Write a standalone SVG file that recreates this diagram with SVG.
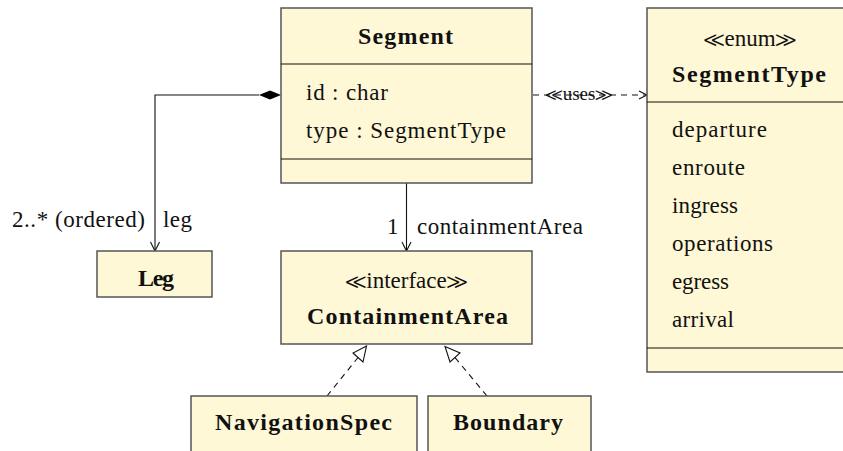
<svg xmlns="http://www.w3.org/2000/svg" width="843" height="451" viewBox="0 0 843 451" font-family="Liberation Serif, DejaVu Serif, Noto Serif, FreeSerif, Nimbus Roman, Times, serif">
<style>
.box{fill:#fff8d6;stroke:#555;stroke-width:1.5}
.div{stroke:#111;stroke-width:1}
text{font-size:23px;fill:#111}
.b{font-weight:bold;font-size:24px}
.s{font-size:19px}
.ln{fill:none;stroke:#111;stroke-width:1.1}
.dash{stroke-dasharray:6 5}
</style>
<rect width="843" height="451" fill="#fff"/>
<g id="connectors">
  <polyline class="ln" points="259,95 155,95 155,250"/>
  <polygon points="281,95 270,90.5 259,95 270,99.5" fill="#000"/>
  <polyline class="ln" points="150.5,242 155,251 159.5,242"/>
  <line class="ln" x1="406.5" y1="183" x2="406.5" y2="250"/>
  <polyline class="ln" points="402,242 406.5,251 411,242"/>
  <line class="ln dash" x1="533" y1="95" x2="646" y2="95"/>
  <polyline class="ln" points="639,91 647,95 639,99"/>
  <line class="ln dash" x1="327" y1="396" x2="358" y2="357.5"/>
  <polygon class="ln" points="366.5,346 353,353 363,362"/>
  <line class="ln dash" x1="487" y1="396" x2="455" y2="357.5"/>
  <polygon class="ln" points="445,346.5 460,353 450,362"/>
  <text class="s" x="579" y="100" text-anchor="middle">≪uses≫</text>
  <text x="12" y="227" textLength="133" lengthAdjust="spacing">2..* (ordered)</text>
  <text x="163" y="227" textLength="29" lengthAdjust="spacing">leg</text>
  <text x="387" y="234">1</text>
  <text x="417" y="234" textLength="166" lengthAdjust="spacing">containmentArea</text>
</g>
<g id="Segment">
  <rect class="box" x="281" y="8" width="251" height="175"/>
  <line class="div" x1="281" y1="64" x2="532" y2="64"/>
  <line class="div" x1="281" y1="159" x2="532" y2="159"/>
  <text class="b" x="358" y="44" textLength="95" lengthAdjust="spacing">Segment</text>
  <text x="306" y="100" textLength="82" lengthAdjust="spacing">id : char</text>
  <text x="306" y="138" textLength="200" lengthAdjust="spacing">type : SegmentType</text>
</g>
<g id="SegmentType">
  <rect class="box" x="647" y="8" width="210" height="364"/>
  <line class="div" x1="647" y1="102" x2="843" y2="102"/>
  <line class="div" x1="647" y1="348" x2="843" y2="348"/>
  <text x="750" y="46" text-anchor="middle">≪enum≫</text>
  <text class="b" x="672" y="82" textLength="154" lengthAdjust="spacing">SegmentType</text>
  <text x="672" y="137" textLength="95" lengthAdjust="spacing">departure</text>
  <text x="672" y="175" textLength="73" lengthAdjust="spacing">enroute</text>
  <text x="672" y="213" textLength="66" lengthAdjust="spacing">ingress</text>
  <text x="672" y="251" textLength="101" lengthAdjust="spacing">operations</text>
  <text x="672" y="289" textLength="57" lengthAdjust="spacing">egress</text>
  <text x="672" y="327" textLength="62" lengthAdjust="spacing">arrival</text>
</g>
<g id="Leg">
  <rect class="box" x="97" y="251" width="115" height="46"/>
  <text class="b" x="138" y="286" textLength="36" lengthAdjust="spacing">Leg</text>
</g>
<g id="ContainmentArea">
  <rect class="box" x="281" y="251" width="251" height="93"/>
  <text x="406.5" y="288" text-anchor="middle">≪interface≫</text>
  <text class="b" x="307" y="324" textLength="201" lengthAdjust="spacing">ContainmentArea</text>
</g>
<g id="NavigationSpec">
  <rect class="box" x="191" y="396" width="226" height="70"/>
  <text class="b" x="215" y="430" textLength="177" lengthAdjust="spacing">NavigationSpec</text>
</g>
<g id="Boundary">
  <rect class="box" x="428" y="396" width="163" height="70"/>
  <text class="b" x="453" y="430" textLength="110" lengthAdjust="spacing">Boundary</text>
</g>
</svg>
